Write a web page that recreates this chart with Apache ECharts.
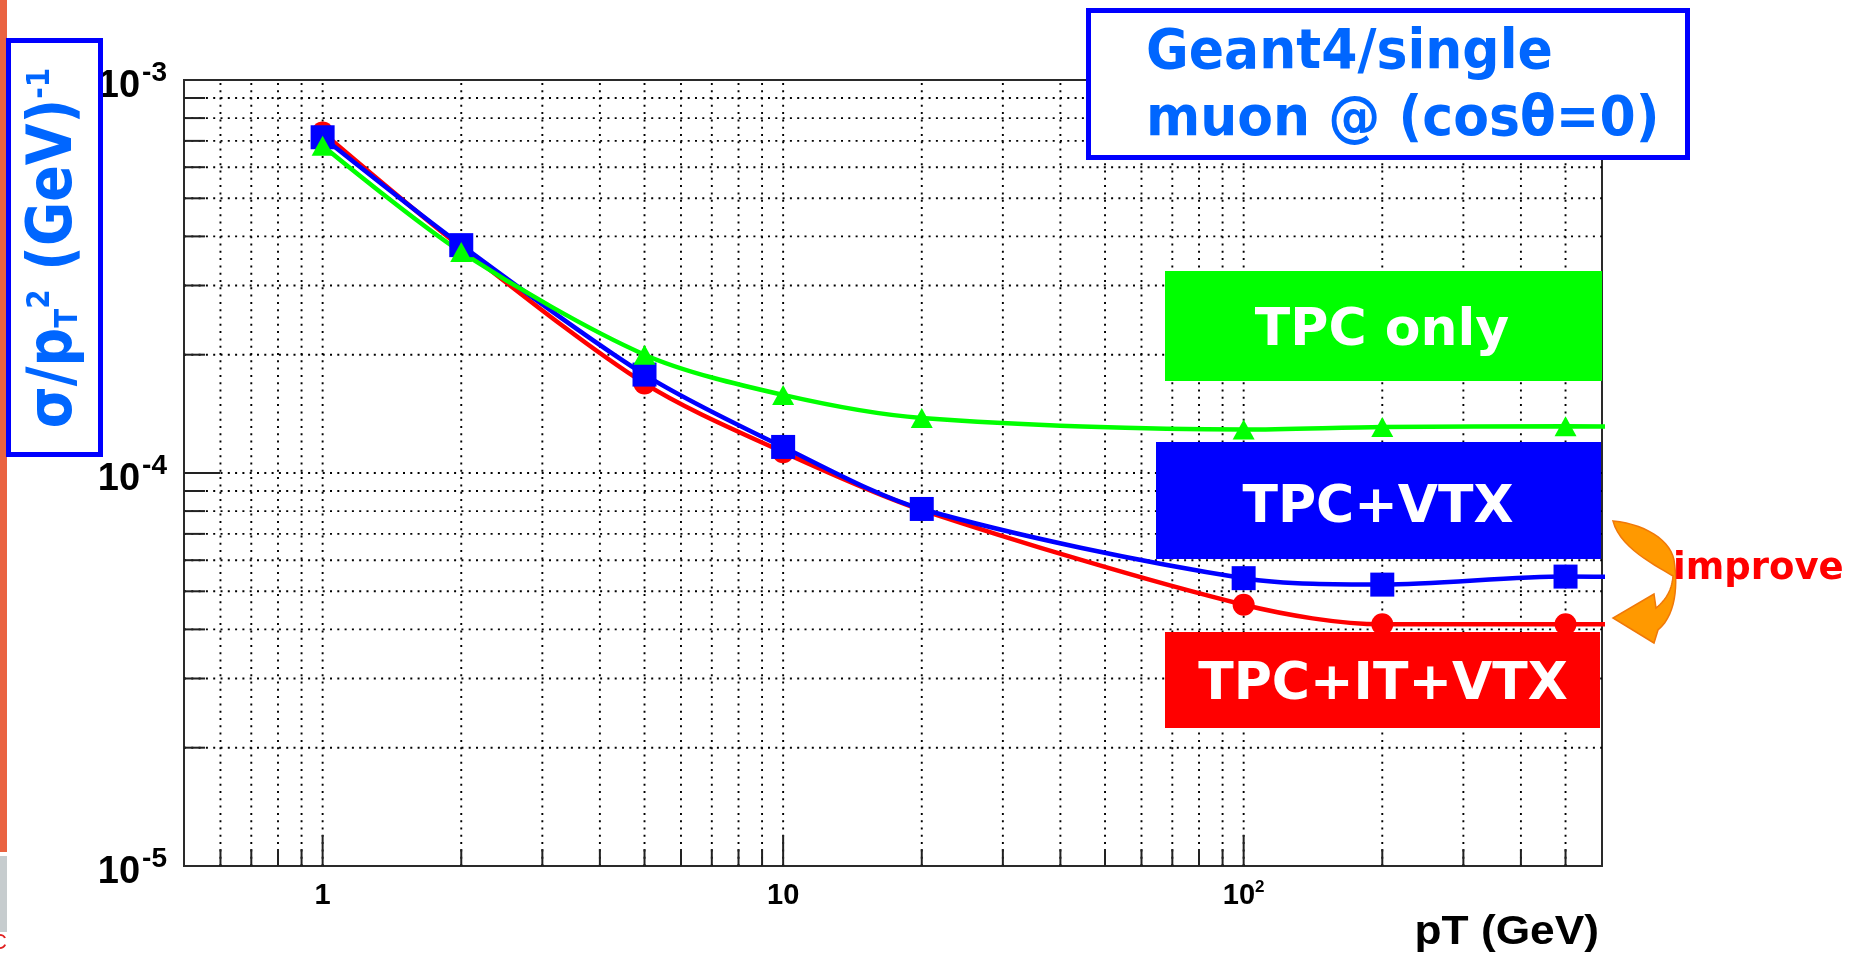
<!DOCTYPE html>
<html>
<head>
<meta charset="utf-8">
<title>momentum resolution vs pT</title>
<script src="https://cdn.jsdelivr.net/npm/echarts@6/dist/echarts.min.js"></script>
<style>
html, body { margin: 0; padding: 0; background: #fff; }
#chart { width: 1850px; height: 956px; }
</style>
</head>
<body>
<div id="chart"></div>
<script>
// pT points (GeV). the 1000 GeV point is past the frame, only the curve tails show it
var ptValues = [1, 2, 5, 10, 20, 100, 200, 500, 1000];
var tpcItVtx = [7.35e-4, 3.75e-4, 1.69e-4, 1.13e-4, 8.05e-5, 4.62e-5, 4.12e-5, 4.12e-5, 4.12e-5];
var tpcVtx = [7.15e-4, 3.8e-4, 1.78e-4, 1.165e-4, 8.1e-5, 5.4e-5, 5.2e-5, 5.45e-5, 5.4e-5];
var tpcOnly = [6.8e-4, 3.65e-4, 2.0e-4, 1.58e-4, 1.38e-4, 1.29e-4, 1.31e-4, 1.315e-4, 1.31e-4];

var xMin = 0.5, xMax = 600, yMin = 1e-5, yMax = 1e-3;
var xMajor = [1, 10, 100];
var xMajorText = ['1', '10', '10^2'];
var yMajor = [1e-5, 1e-4, 1e-3];
var yMajorText = ['10^-5', '10^-4', '10^-3'];
var xGridValues = [0.6, 0.7, 0.8, 0.9, 1, 2, 3, 4, 5, 6, 7, 8, 9, 10,
  20, 30, 40, 50, 60, 70, 80, 90, 100, 200, 300, 400, 500];
var yGridValues = [2e-5, 3e-5, 4e-5, 5e-5, 6e-5, 7e-5, 8e-5, 9e-5, 1e-4,
  2e-4, 3e-4, 4e-4, 5e-4, 6e-4, 7e-4, 8e-4, 9e-4];

function pairs(ys) {
  return ptValues.map(function (x, i) { return [x, ys[i]]; });
}

function isMajor(v, majors) {
  for (var i = 0; i < majors.length; i++) {
    if (Math.abs(Math.log10(v) - Math.log10(majors[i])) < 1e-6) return i;
  }
  return -1;
}

// '10^-4' -> rich text with superscript
function richPow(txt) {
  var p = txt.split('^');
  return p.length > 1 ? '{b|' + p[0] + '}{s|' + p[1] + '}' : '{b|' + txt + '}';
}

function labelFormatter(majors, texts) {
  return function (v) {
    var i = isMajor(v, majors);
    return i < 0 ? '' : richPow(texts[i]);
  };
}

// dotted grid + inward ticks, ROOT style
function gridRender(vertical) {
  return function (params, api) {
    var v = api.value(vertical ? 0 : 1);
    var major = isMajor(v, vertical ? xMajor : yMajor) >= 0;
    var a, b, t;
    if (vertical) {
      a = api.coord([v, yMin]);
      b = api.coord([v, yMax]);
      t = major ? 31 : 17;
    } else {
      a = api.coord([xMin, v]);
      b = api.coord([xMax, v]);
      t = major ? 36 : 21;
    }
    return {
      type: 'group',
      children: [
        {
          type: 'line',
          shape: { x1: a[0], y1: a[1], x2: b[0], y2: b[1] },
          style: { stroke: '#000', lineWidth: 1.9, lineDash: [2, 5.3] }
        },
        {
          type: 'line',
          shape: vertical
            ? { x1: a[0], y1: a[1], x2: a[0], y2: a[1] - t }
            : { x1: a[0], y1: a[1], x2: a[0] + t, y2: a[1] },
          style: { stroke: '#222', lineWidth: 2 }
        }
      ]
    };
  };
}

// curved arrow outline, sampled into a polygon
var arrowCmds = [
  ['M', 1613, 521],
  ['C', 1645, 524, 1670, 540, 1674, 560],
  ['C', 1678, 585, 1676, 615, 1658, 630],
  ['L', 1654, 643],
  ['L', 1613, 618],
  ['L', 1654, 594],
  ['L', 1656, 608],
  ['C', 1666, 600, 1672, 590, 1673, 576],
  ['C', 1655, 565, 1620, 548, 1613, 521]
];
function samplePath(cmds) {
  var pts = [], cx = 0, cy = 0;
  cmds.forEach(function (c) {
    if (c[0] === 'C') {
      for (var k = 1; k <= 14; k++) {
        var t = k / 14, u = 1 - t;
        pts.push([
          u * u * u * cx + 3 * u * u * t * c[1] + 3 * u * t * t * c[3] + t * t * t * c[5],
          u * u * u * cy + 3 * u * u * t * c[2] + 3 * u * t * t * c[4] + t * t * t * c[6]
        ]);
      }
      cx = c[5]; cy = c[6];
    } else {
      pts.push([c[1], c[2]]);
      cx = c[1]; cy = c[2];
    }
  });
  return pts;
}

var labelFont = 'Liberation Sans';
var boxFont = 'DejaVu Sans';
var titleBlue = '#0066ff';

function curve(name, ys, color, symbol, size) {
  return {
    name: name,
    type: 'line',
    data: pairs(ys),
    smooth: 0.3,
    symbol: symbol,
    symbolSize: size,
    lineStyle: { color: color, width: 4.5 },
    itemStyle: { color: color, borderWidth: 0 },
    z: 3
  };
}

var chart = echarts.init(document.getElementById('chart'));
chart.setOption({
  animation: false,
  backgroundColor: '#fff',
  grid: {
    left: 184, right: 248, top: 80, bottom: 90,
    show: true, borderColor: '#2a2a2a', borderWidth: 2,
    outerBoundsMode: 'none'
  },
  xAxis: {
    type: 'log', logBase: 10, min: xMin, max: xMax,
    axisLine: { show: false },
    axisTick: { show: false },
    splitLine: { show: false },
    axisLabel: {
      margin: 13,
      formatter: labelFormatter(xMajor, xMajorText),
      rich: {
        b: { fontSize: 29, fontWeight: 'bold', fontFamily: labelFont, color: '#000', lineHeight: 34 },
        s: { fontSize: 17, fontWeight: 'bold', fontFamily: labelFont, color: '#000', lineHeight: 20, verticalAlign: 'top' }
      }
    }
  },
  yAxis: {
    type: 'log', logBase: 10, min: yMin, max: yMax,
    axisLine: { show: false },
    axisTick: { show: false },
    splitLine: { show: false },
    axisLabel: {
      margin: 17,
      padding: [14, 0, 0, 0],
      formatter: labelFormatter(yMajor, yMajorText),
      rich: {
        b: { fontSize: 38, fontWeight: 'bold', fontFamily: labelFont, color: '#000', lineHeight: 55 },
        s: { fontSize: 28, fontWeight: 'bold', fontFamily: labelFont, color: '#000', lineHeight: 28,
             verticalAlign: 'top', padding: [0, 0, 0, 2] }
      }
    }
  },
  series: [
    {
      type: 'custom', silent: true, z: 1,
      data: xGridValues.map(function (x) { return [x, yMin]; }),
      renderItem: gridRender(true)
    },
    {
      type: 'custom', silent: true, z: 1,
      data: yGridValues.map(function (y) { return [xMin, y]; }),
      renderItem: gridRender(false)
    },
    curve('TPC+IT+VTX', tpcItVtx, '#ff0000', 'circle', 22),
    curve('TPC+VTX', tpcVtx, '#0000ff', 'rect', 24),
    curve('TPC only', tpcOnly, '#00ff00', 'triangle', [22, 20])
  ],
  graphic: [
    // slide edge
    { type: 'rect', z: 100, shape: { x: 0, y: 0, width: 7, height: 852 }, style: { fill: '#ea6341' } },
    { type: 'rect', z: 100, shape: { x: 0, y: 856, width: 7, height: 76 }, style: { fill: '#8e9a9e', opacity: 0.5 } },
    { type: 'text', z: 100, x: -9, y: 932, style: { text: 'C', fill: '#e02020', fontSize: 22, fontFamily: labelFont } },

    // y axis title box
    { type: 'rect', z: 100, shape: { x: 8.5, y: 40.5, width: 92, height: 414 },
      style: { fill: '#fff', stroke: '#0000ff', lineWidth: 5 } },
    { type: 'text', z: 101, x: 55, y: 248, rotation: Math.PI / 2, scaleX: 0.87,
      style: {
        text: '{a|σ/p}{sub|T}{sup|2}{a| (GeV)}{sup|-1}',
        textAlign: 'center', textVerticalAlign: 'middle',
        rich: {
          a: { fontSize: 62, fontWeight: 'bold', fontFamily: boxFont, fill: titleBlue, lineHeight: 60 },
          sub: { fontSize: 32, fontWeight: 'bold', fontFamily: boxFont, fill: titleBlue, lineHeight: 24, verticalAlign: 'bottom' },
          sup: { fontSize: 32, fontWeight: 'bold', fontFamily: boxFont, fill: titleBlue, lineHeight: 32, verticalAlign: 'top' }
        }
      } },

    // Geant4 box
    { type: 'rect', z: 100, shape: { x: 1088.5, y: 10.5, width: 599, height: 147 },
      style: { fill: '#fff', stroke: '#0000ff', lineWidth: 5 } },
    { type: 'text', z: 101, x: 1146, y: 53, scaleX: 0.93,
      style: { text: 'Geant4/single', fill: titleBlue, fontSize: 56, fontWeight: 'bold', fontFamily: boxFont,
               textAlign: 'left', textVerticalAlign: 'middle' } },
    { type: 'text', z: 101, x: 1146, y: 120, scaleX: 0.93,
      style: { text: 'muon @ (cosθ=0)', fill: titleBlue, fontSize: 56, fontWeight: 'bold', fontFamily: boxFont,
               textAlign: 'left', textVerticalAlign: 'middle' } },

    // legend boxes
    { type: 'rect', z: 100, shape: { x: 1165, y: 271, width: 437, height: 110 }, style: { fill: '#00ff00' } },
    { type: 'text', z: 101, x: 1382, y: 331,
      style: { text: 'TPC only', fill: '#fff', fontSize: 52, fontWeight: 'bold', fontFamily: boxFont,
               textAlign: 'center', textVerticalAlign: 'middle' } },
    { type: 'rect', z: 100, shape: { x: 1156, y: 442, width: 445, height: 117 }, style: { fill: '#0000ff' } },
    { type: 'text', z: 101, x: 1378, y: 508,
      style: { text: 'TPC+VTX', fill: '#fff', fontSize: 52, fontWeight: 'bold', fontFamily: boxFont,
               textAlign: 'center', textVerticalAlign: 'middle' } },
    { type: 'rect', z: 100, shape: { x: 1165, y: 632, width: 435, height: 96 }, style: { fill: '#ff0000' } },
    { type: 'text', z: 101, x: 1383, y: 685,
      style: { text: 'TPC+IT+VTX', fill: '#fff', fontSize: 52, fontWeight: 'bold', fontFamily: boxFont,
               textAlign: 'center', textVerticalAlign: 'middle' } },

    // curved "improve" arrow
    { type: 'polygon', z: 100,
      shape: { points: samplePath(arrowCmds) },
      style: { fill: '#ff9900', stroke: '#f07808', lineWidth: 1.5 } },
    { type: 'text', z: 101, x: 1673, y: 569,
      style: { text: 'improve', fill: '#ff0000', fontSize: 37, fontWeight: 'bold', fontFamily: boxFont,
               textAlign: 'left', textVerticalAlign: 'middle' } },

    // x axis title
    { type: 'text', z: 101, x: 1599, y: 933, scaleX: 1.08,
      style: { text: 'pT (GeV)', fill: '#000', fontSize: 41, fontWeight: 'bold', fontFamily: labelFont,
               textAlign: 'right', textVerticalAlign: 'middle' } }
  ]
});
</script>
</body>
</html>
